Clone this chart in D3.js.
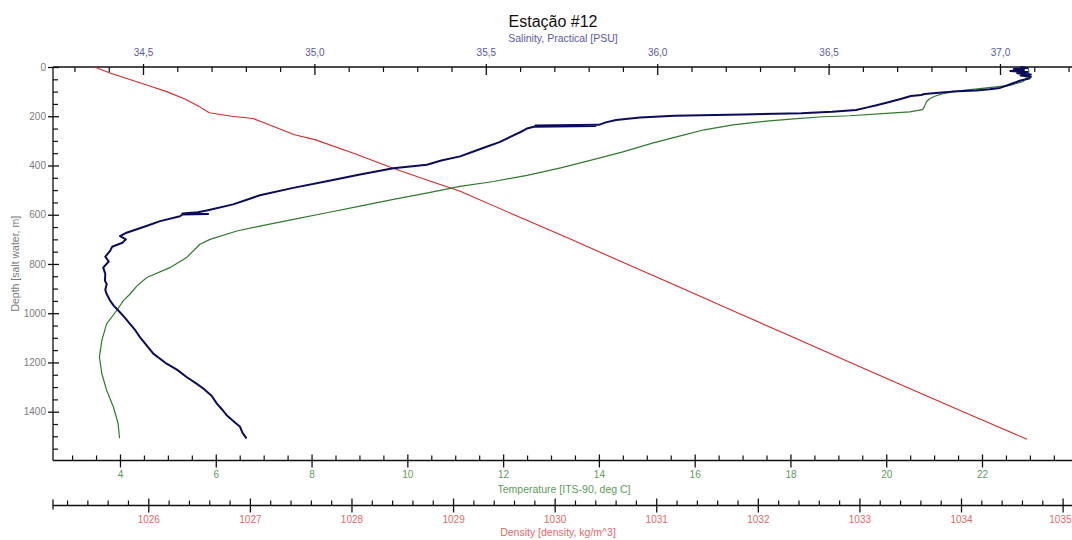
<!DOCTYPE html>
<html>
<head>
<meta charset="utf-8">
<script src="https://cdn.jsdelivr.net/npm/d3@7"></script>
<style>
  html, body { margin: 0; padding: 0; background: #fff; }
  svg { display: block; font-family: "Liberation Sans", Arial, sans-serif; }
</style>
</head>
<body>
<svg id="chart" width="1072" height="540"></svg>
<script>
// CTD profile, station 12: salinity, temperature and density against depth

const salDepth = [0,4,8,12,16,20,25,30,35,40,47,55,65,75,85,90,95,100,104,110,114,118,130,141,155,165,175,182,188,
  193,198,205,215,225,235,238,240,243,250,265,285,305,325,345,363,380,397,411,437,464,491,521,558,583,590,595,597,599,606,626,646,
  673,687,700,714,730,747,770,790,815,840,868,882,905,922,949,970,989,1015,1043,1070,1097,1130,1164,1205,1230,1259,
  1285,1306,1335,1366,1390,1414,1440,1461,1485,1508];
const salValue = [37.06,37.08,37.04,37.07,37.03,37.08,37.05,37.09,37.06,37.09,37.085,37.06,37.04,37.02,37.00,36.97,36.93,36.86,36.83,36.78,36.77,36.74,36.71,36.68,36.64,36.61,36.58,36.51,36.42,
  36.25,36.05,35.95,35.88,35.85,35.83,35.645,35.82,35.64,35.62,35.60,35.57,35.54,35.50,35.46,35.425,35.37,35.328,35.23,35.133,35.036,34.938,34.841,34.763,34.686,34.66,34.615,34.69,34.615,34.608,34.55,34.51,
  34.452,34.433,34.45,34.44,34.41,34.404,34.39,34.40,34.384,34.39,34.389,34.394,34.39,34.394,34.404,34.415,34.428,34.445,34.462,34.478,34.491,34.51,34.53,34.569,34.60,34.627,
  34.655,34.676,34.70,34.715,34.73,34.744,34.765,34.783,34.79,34.802];

const tempDepth = [0,10,20,30,40,50,60,68,75,85,95,108,120,130,141,160,173,182,188,198,202,209,220,235,255,280,310,345,380,410,440,465,
  485,512,538,565,592,619,646,666,700,720,774,815,855,890,922,949,989,1043,1111,1178,1245,1313,1380,1447,1508];
const tempValue = [22.95,22.97,22.98,22.96,22.95,22.9,22.85,22.7,22.58,22.1,21.6,21.18,21.0,20.9,20.84,20.8,20.76,20.49,20.0,19.24,18.68,18.2,17.5,16.8,16.2,15.7,15.1,14.5,13.8,13.2,12.5,11.8,
  11.10,10.40,9.71,9.01,8.32,7.62,6.92,6.44,5.88,5.67,5.39,5.04,4.56,4.35,4.21,4.07,3.93,3.72,3.62,3.57,3.62,3.72,3.86,3.96,3.99];

const densDepth = [0,25,50,75,100,130,160,186,200,209,240,275,295,350,411,460,505,600,700,800,900,1000,1100,1200,1300,1400,1512];
const densValue = [1025.47,1025.63,1025.81,1026.00,1026.18,1026.36,1026.50,1026.60,1026.82,1027.03,1027.22,1027.44,1027.64,1028.02,1028.41,1028.75,1029.07,
  1029.60,1030.16,1030.71,1031.26,1031.81,1032.36,1032.91,1033.46,1034.02,1034.65];

// axis tick labels
const salTicks = [34.5, 35.0, 35.5, 36.0, 36.5, 37.0];
const tempTicks = [4, 6, 8, 10, 12, 14, 16, 18, 20, 22];
const densTicks = [1026, 1027, 1028, 1029, 1030, 1031, 1032, 1033, 1034, 1035];
const depthTicks = [0, 200, 400, 600, 800, 1000, 1200, 1400];

const title = "Estação #12";
const salTitle = "Salinity, Practical [PSU]";
const tempTitle = "Temperature [ITS-90, deg C]";
const densTitle = "Density [density, kg/m^3]";
const depthTitle = "Depth [salt water, m]";

// ---- layout ----
const plotL = 53, plotR = 1072, plotT = 67, plotB = 460.5, densAxisY = 505.5;

const col = {
  sal: "#0b0b5c", salText: "#5a5aa2",
  temp: "#2f7a2f", tempText: "#5c9c5c",
  dens: "#d22a2a", densText: "#e06a6a",
  depthText: "#7a7a7a", axis: "#111"
};

const xSal = d3.scaleLinear().domain([34.5, 37.0]).range([143, 1000]);
const xTemp = d3.scaleLinear().domain([4, 22]).range([120, 982]);
const xDens = d3.scaleLinear().domain([1026, 1035]).range([148.3, 1062.6]);
const yDepth = d3.scaleLinear().domain([0, 1400]).range([plotT, 411.7]);

const commaFmt = d3.formatLocale({decimal: ",", thousands: ".", grouping: [3], currency: ["", ""]}).format(".1f");

const svg = d3.select("#chart");

function range(a, b, step) {
  const out = [];
  for (let i = 0; a + i * step <= b + 1e-9; i++) out.push(+(a + i * step).toFixed(4));
  return out;
}
function minorOf(all, majors) {
  return all.filter(v => !majors.some(m => Math.abs(m - v) < 1e-6));
}

// horizontal axis helper: line + major ticks crossing + minor ticks on one side
function hAxis(y, scale, majors, minors, fmt, color, upMajor, downMajor, minorLen, minorUp, labelDy, gen) {
  const g = svg.append("g").attr("transform", `translate(0,${y})`);
  g.append("line").attr("x1", plotL).attr("x2", plotR).attr("y1", 0).attr("y2", 0)
    .attr("stroke", col.axis).attr("stroke-width", 1.3);
  const major = g.append("g").call(gen(scale).tickValues(majors).tickFormat(fmt).tickSizeOuter(0));
  major.select(".domain").remove();
  major.selectAll(".tick line").attr("y1", -upMajor).attr("y2", downMajor).attr("stroke", col.axis).attr("stroke-width", 1.3);
  major.selectAll(".tick text").attr("fill", color).attr("font-size", 10).attr("y", labelDy).attr("dy", 0)
    .attr("font-family", "Liberation Sans, Arial, sans-serif");
  const minor = g.append("g").call(gen(scale).tickValues(minors).tickFormat("").tickSizeOuter(0));
  minor.select(".domain").remove();
  minor.selectAll(".tick line").attr("y1", 0).attr("y2", minorUp ? -minorLen : minorLen).attr("stroke", col.axis).attr("stroke-width", 1.2);
  return {g, major};
}

// top: salinity
hAxis(plotT, xSal, salTicks, minorOf(range(34.3, 37.2, 0.1), salTicks), commaFmt, col.salText, 3, 8, 5, false, -11, d3.axisTop);
// bottom: temperature
hAxis(plotB, xTemp, tempTicks, minorOf(range(3, 23.5, 0.5), tempTicks), d3.format("d"), col.tempText, 6, 7, 5, true, 17, d3.axisBottom);
// lower: density
const dAx = hAxis(densAxisY, xDens, densTicks, minorOf(range(1025.2, 1035, 0.2), densTicks), d3.format("d"), col.densText, 7, 7, 5, true, 17, d3.axisBottom);
dAx.g.append("line").attr("x1", plotL).attr("x2", plotL).attr("y1", -6).attr("y2", 4).attr("stroke", col.axis).attr("stroke-width", 1.3);
// last density label sits against the right edge
dAx.major.selectAll(".tick").filter(d => d === 1035).select("text")
  .attr("text-anchor", "end").attr("x", plotR - 1 - xDens(1035));

// left: depth
const gY = svg.append("g").attr("transform", `translate(${plotL},0)`);
gY.append("line").attr("x1", 0).attr("x2", 0).attr("y1", plotT).attr("y2", plotB).attr("stroke", col.axis).attr("stroke-width", 1.3);
const yMajor = gY.append("g").call(d3.axisLeft(yDepth).tickValues(depthTicks).tickFormat(d3.format("d")).tickSizeOuter(0));
yMajor.select(".domain").remove();
yMajor.selectAll(".tick line").attr("x1", -5).attr("x2", 6).attr("stroke", col.axis).attr("stroke-width", 1.3);
yMajor.selectAll(".tick text").attr("fill", col.depthText).attr("font-size", 10).attr("x", -7)
  .attr("font-family", "Liberation Sans, Arial, sans-serif");
const yMinor = gY.append("g").call(d3.axisLeft(yDepth).tickValues(minorOf(range(0, 1550, 50), depthTicks)).tickFormat("").tickSizeOuter(0));
yMinor.select(".domain").remove();
yMinor.selectAll(".tick line").attr("x1", 0).attr("x2", 5).attr("stroke", col.axis).attr("stroke-width", 1.2);

// titles
svg.append("text").attr("x", 553).attr("y", 27).attr("text-anchor", "middle")
  .attr("font-size", 16).attr("fill", "#111").text(title);
svg.append("text").attr("x", 563).attr("y", 42).attr("text-anchor", "middle")
  .attr("font-size", 10.5).attr("fill", col.salText).text(salTitle);
svg.append("text").attr("x", 564).attr("y", 493).attr("text-anchor", "middle")
  .attr("font-size", 10.5).attr("fill", col.tempText).text(tempTitle);
svg.append("text").attr("x", 558).attr("y", 536).attr("text-anchor", "middle")
  .attr("font-size", 10.5).attr("fill", col.densText).text(densTitle);
svg.append("text").attr("transform", `translate(19,${(plotT + plotB) / 2}) rotate(-90)`)
  .attr("text-anchor", "middle").attr("font-size", 10.5).attr("fill", col.depthText).text(depthTitle);

// profiles
const plot = svg.append("g");
function profile(depths, values, xs, color, width) {
  const pts = depths.map((d, i) => [xs(values[i]), yDepth(d)]);
  plot.append("path").attr("d", d3.line()(pts)).attr("fill", "none")
    .attr("stroke", color).attr("stroke-width", width).attr("stroke-linejoin", "round");
}
profile(densDepth, densValue, xDens, col.dens, 1.1);
profile(tempDepth, tempValue, xTemp, col.temp, 1.2);
profile(salDepth, salValue, xSal, col.sal, 2);
</script>
</body>
</html>
